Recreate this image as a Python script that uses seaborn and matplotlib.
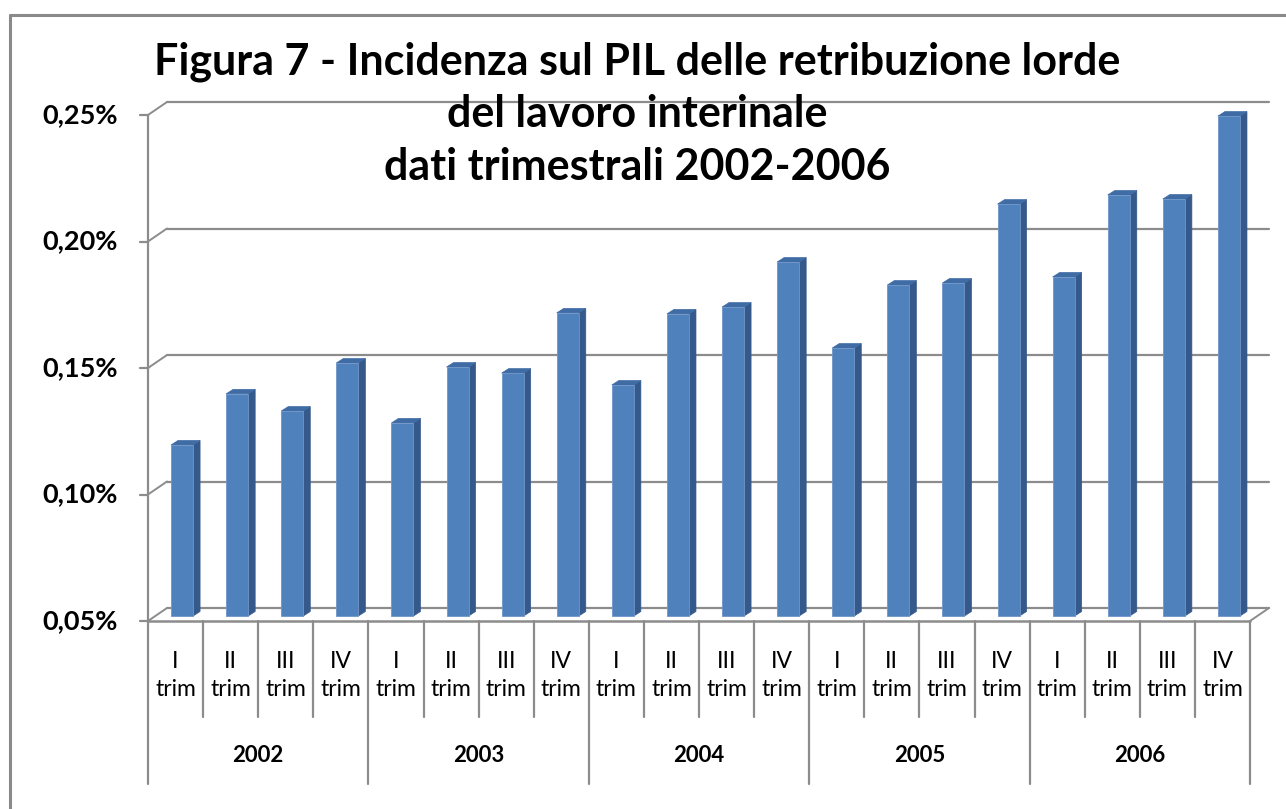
import matplotlib
matplotlib.use("Agg")
import matplotlib.pyplot as plt
from matplotlib.patches import Polygon
from matplotlib.lines import Line2D
import seaborn as sns
import pandas as pd

# ---------------- data ----------------
years = ["2002", "2003", "2004", "2005", "2006"]
quarters = ["I", "II", "III", "IV"]
values_2002 = [0.1176, 0.1378, 0.1310, 0.1500]
values_2003 = [0.1263, 0.1484, 0.1460, 0.1698]
values_2004 = [0.1413, 0.1694, 0.1721, 0.1899]
values_2005 = [0.1559, 0.1808, 0.1816, 0.2128]
values_2006 = [0.1840, 0.2164, 0.2148, 0.2476]
yticks = [0.05, 0.10, 0.15, 0.20, 0.25]
ytick_labels = ["0,05%", "0,10%", "0,15%", "0,20%", "0,25%"]
title = "Figura 7 - Incidenza sul PIL delle retribuzione lorde\ndel lavoro interinale\ndati trimestrali 2002-2006"

all_values = values_2002 + values_2003 + values_2004 + values_2005 + values_2006
keys = [f"{y} {q}" for y in years for q in quarters]
df = pd.DataFrame({"key": keys, "value": all_values})

# ---------------- style ----------------
sns.set_theme(style="white")
plt.rcParams["font.family"] = ["Lato", "DejaVu Sans"]

W, H = 1286, 809
fig = plt.figure(figsize=(W / 100, H / 100), dpi=100)

# front plane of the 3D box in pixel coordinates
x_left, x_right = 148, 1250
y_low, y_high = 621, 115   # pixel rows for 0.05 and 0.25
ax = fig.add_axes([x_left / W, (H - y_low) / H, (x_right - x_left) / W, (y_low - y_high) / H])
ax.set_xlim(-0.5, 19.5)
ax.set_ylim(0.05, 0.25)
ax.axis("off")

# pixel -> data conversion
px_x = 20.0 / (x_right - x_left)
px_y = 0.20 / (y_low - y_high)

grid_col = "#8c8c8c"
depth_dx, depth_dy = 19, 13          # back wall offset (px)
bar_dx, bar_dy = 6.5, 5              # bar front face offset (px)
bar_ddx, bar_ddy = 7, 4.5            # bar depth (px)

# back wall gridlines + left diagonals
for v, lab in zip(yticks, ytick_labels):
    ax.add_line(Line2D([-0.5 + depth_dx * px_x, 19.5 + depth_dx * px_x],
                       [v + depth_dy * px_y, v + depth_dy * px_y],
                       color=grid_col, lw=1.6, zorder=1, clip_on=False))
    ax.add_line(Line2D([-0.5, -0.5 + depth_dx * px_x], [v, v + depth_dy * px_y],
                       color=grid_col, lw=1.4, zorder=1, clip_on=False))
    ax.add_line(Line2D([-0.5 - 8 * px_x, -0.5], [v, v],
                       color=grid_col, lw=1.6, zorder=1, clip_on=False))
    ax.text(-0.5 - 30 * px_x, v, lab, ha="right", va="center",
            fontsize=19.5, fontweight="bold", color="black")

# floor right edge, front floor line, y axis line
ax.add_line(Line2D([19.5, 19.5 + depth_dx * px_x], [0.05, 0.05 + depth_dy * px_y],
                   color=grid_col, lw=1.4, zorder=1, clip_on=False))
ax.add_line(Line2D([-0.5, 19.5], [0.05, 0.05], color=grid_col, lw=1.8, zorder=4, clip_on=False))
ax.add_line(Line2D([-0.5, -0.5], [0.05, 0.25], color=grid_col, lw=1.6, zorder=1, clip_on=False))

# bars (front faces) via seaborn
sns.barplot(data=df, x="key", y="value", ax=ax, color="#4F81BD", saturation=1,
            width=0.4, errorbar=None, zorder=3)
ax.set_xlim(-0.5, 19.5)
ax.set_ylim(0.05, 0.25)
ax.axis("off")

side_col = "#34598A"
top_col = "#3F6CA5"
for p in ax.patches:
    x0 = p.get_x() + bar_dx * px_x
    w = p.get_width()
    top = p.get_height() + bar_dy * px_y
    bottom = 0.05 + bar_dy * px_y
    p.set_x(x0)
    p.set_y(bottom)
    p.set_height(top - bottom)
    p.set_edgecolor("#6f95c8")
    p.set_linewidth(0.6)
    p.set_clip_on(False)
    x1 = x0 + w
    ddx, ddy = bar_ddx * px_x, bar_ddy * px_y
    side = Polygon([(x1, bottom), (x1, top), (x1 + ddx, top + ddy), (x1 + ddx, bottom + ddy)],
                   closed=True, facecolor=side_col, edgecolor=side_col, lw=0.5, zorder=2.9,
                   clip_on=False)
    topf = Polygon([(x0, top), (x1, top), (x1 + ddx, top + ddy), (x0 + ddx, top + ddy)],
                   closed=True, facecolor=top_col, edgecolor=top_col, lw=0.5, zorder=2.9,
                   clip_on=False)
    ax.add_patch(side)
    ax.add_patch(topf)

# category table below the floor
tr = ax.get_xaxis_transform()
axh = y_low - y_high
def yfrac(py):
    return (y_low - py) / axh

for k in range(21):
    bottom_py = 784 if k % 4 == 0 else 717
    ax.add_line(Line2D([k - 0.5, k - 0.5], [0, yfrac(bottom_py)], transform=tr,
                       color=grid_col, lw=1.6, clip_on=False))
for i, key in enumerate(keys):
    q = key.split()[1]
    ax.text(i, yfrac(661), q, transform=tr, ha="center", va="center", fontsize=16.5, color="black")
    ax.text(i, yfrac(690), "trim", transform=tr, ha="center", va="center", fontsize=16.5, color="black")
for j, y in enumerate(years):
    ax.text(4 * j + 1.5, yfrac(756), y, transform=tr, ha="center", va="center",
            fontsize=16, fontweight="bold", color="black")

# title
fig.text(637 / W, 1 - 114 / H, title, ha="center", va="center", fontsize=31,
         fontweight="bold", linespacing=1.38, color="black")

# outer frame (top and left edges visible)
fig.add_artist(Line2D([10 / W, 1.0], [1 - 15 / H, 1 - 15 / H], color="#8a8a8a", lw=2.2))
fig.add_artist(Line2D([10 / W, 10 / W], [1 - 15 / H, 0.0], color="#8a8a8a", lw=2.2))

fig.savefig("out.png", dpi=100, facecolor="white")
